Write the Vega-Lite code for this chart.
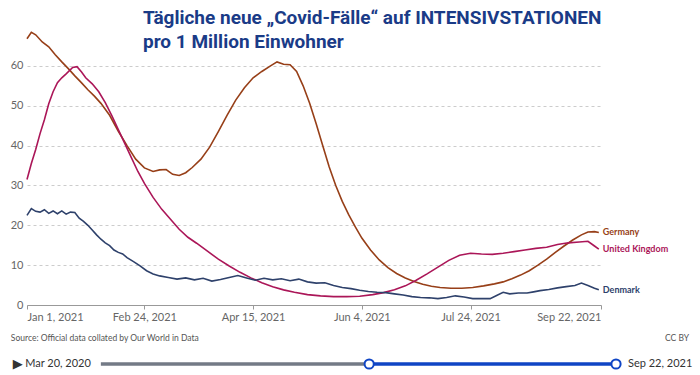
{
  "$schema": "https://vega.github.io/schema/vega-lite/v6.json",
  "autosize": {"type": "pad"},
  "padding": {"left": 10, "top": 9, "right": 0, "bottom": 0},
  "background": "white",
  "title": {
    "text": ["Tägliche neue „Covid-Fälle“ auf INTENSIVSTATIONEN", "pro 1 Million Einwohner"],
    "anchor": "start",
    "frame": "group",
    "dx": 116,
    "offset": -23,
    "font": "Roboto",
    "fontSize": 19,
    "fontWeight": "bold",
    "color": "#1a3b87",
    "lineHeight": 24
  },
  "datasets": {
    "icu": [
      {"country": "Germany", "date": "2021-01-01", "value": 66.8},
      {"country": "Germany", "date": "2021-01-03", "value": 68.4},
      {"country": "Germany", "date": "2021-01-05", "value": 67.8},
      {"country": "Germany", "date": "2021-01-08", "value": 66.0},
      {"country": "Germany", "date": "2021-01-11", "value": 64.8},
      {"country": "Germany", "date": "2021-01-14", "value": 62.8},
      {"country": "Germany", "date": "2021-01-17", "value": 61.0},
      {"country": "Germany", "date": "2021-01-20", "value": 59.3},
      {"country": "Germany", "date": "2021-01-23", "value": 57.5},
      {"country": "Germany", "date": "2021-01-26", "value": 55.8},
      {"country": "Germany", "date": "2021-01-29", "value": 54.0},
      {"country": "Germany", "date": "2021-02-01", "value": 52.4},
      {"country": "Germany", "date": "2021-02-04", "value": 50.6},
      {"country": "Germany", "date": "2021-02-08", "value": 47.6},
      {"country": "Germany", "date": "2021-02-12", "value": 43.6},
      {"country": "Germany", "date": "2021-02-16", "value": 40.0},
      {"country": "Germany", "date": "2021-02-20", "value": 36.6},
      {"country": "Germany", "date": "2021-02-24", "value": 34.4},
      {"country": "Germany", "date": "2021-02-28", "value": 33.5},
      {"country": "Germany", "date": "2021-03-03", "value": 33.9},
      {"country": "Germany", "date": "2021-03-06", "value": 34.0},
      {"country": "Germany", "date": "2021-03-09", "value": 32.8},
      {"country": "Germany", "date": "2021-03-12", "value": 32.5},
      {"country": "Germany", "date": "2021-03-15", "value": 33.2},
      {"country": "Germany", "date": "2021-03-18", "value": 34.5},
      {"country": "Germany", "date": "2021-03-22", "value": 36.6},
      {"country": "Germany", "date": "2021-03-26", "value": 39.6},
      {"country": "Germany", "date": "2021-03-30", "value": 43.5},
      {"country": "Germany", "date": "2021-04-03", "value": 47.6},
      {"country": "Germany", "date": "2021-04-07", "value": 51.4},
      {"country": "Germany", "date": "2021-04-11", "value": 54.5},
      {"country": "Germany", "date": "2021-04-15", "value": 57.0},
      {"country": "Germany", "date": "2021-04-19", "value": 58.6},
      {"country": "Germany", "date": "2021-04-23", "value": 60.0},
      {"country": "Germany", "date": "2021-04-26", "value": 61.0},
      {"country": "Germany", "date": "2021-04-29", "value": 60.4},
      {"country": "Germany", "date": "2021-05-02", "value": 60.3},
      {"country": "Germany", "date": "2021-05-05", "value": 58.6},
      {"country": "Germany", "date": "2021-05-08", "value": 55.0},
      {"country": "Germany", "date": "2021-05-11", "value": 50.6},
      {"country": "Germany", "date": "2021-05-14", "value": 45.5},
      {"country": "Germany", "date": "2021-05-17", "value": 40.0},
      {"country": "Germany", "date": "2021-05-20", "value": 34.6},
      {"country": "Germany", "date": "2021-05-23", "value": 30.0},
      {"country": "Germany", "date": "2021-05-26", "value": 26.0},
      {"country": "Germany", "date": "2021-05-29", "value": 22.6},
      {"country": "Germany", "date": "2021-06-01", "value": 19.6},
      {"country": "Germany", "date": "2021-06-04", "value": 16.8},
      {"country": "Germany", "date": "2021-06-08", "value": 13.8},
      {"country": "Germany", "date": "2021-06-12", "value": 11.3},
      {"country": "Germany", "date": "2021-06-16", "value": 9.4},
      {"country": "Germany", "date": "2021-06-20", "value": 7.9},
      {"country": "Germany", "date": "2021-06-24", "value": 6.8},
      {"country": "Germany", "date": "2021-06-28", "value": 5.9},
      {"country": "Germany", "date": "2021-07-02", "value": 5.2},
      {"country": "Germany", "date": "2021-07-06", "value": 4.7},
      {"country": "Germany", "date": "2021-07-10", "value": 4.4},
      {"country": "Germany", "date": "2021-07-15", "value": 4.2},
      {"country": "Germany", "date": "2021-07-20", "value": 4.2},
      {"country": "Germany", "date": "2021-07-25", "value": 4.4},
      {"country": "Germany", "date": "2021-07-30", "value": 4.8},
      {"country": "Germany", "date": "2021-08-04", "value": 5.3},
      {"country": "Germany", "date": "2021-08-08", "value": 5.8},
      {"country": "Germany", "date": "2021-08-12", "value": 6.6},
      {"country": "Germany", "date": "2021-08-16", "value": 7.5},
      {"country": "Germany", "date": "2021-08-20", "value": 8.6},
      {"country": "Germany", "date": "2021-08-24", "value": 10.0},
      {"country": "Germany", "date": "2021-08-28", "value": 11.5},
      {"country": "Germany", "date": "2021-09-01", "value": 13.2},
      {"country": "Germany", "date": "2021-09-05", "value": 14.8},
      {"country": "Germany", "date": "2021-09-09", "value": 16.3},
      {"country": "Germany", "date": "2021-09-13", "value": 17.6},
      {"country": "Germany", "date": "2021-09-16", "value": 18.3},
      {"country": "Germany", "date": "2021-09-19", "value": 18.4},
      {"country": "Germany", "date": "2021-09-21", "value": 18.2},
      {"country": "United Kingdom", "date": "2021-01-01", "value": 31.5},
      {"country": "United Kingdom", "date": "2021-01-03", "value": 35.5},
      {"country": "United Kingdom", "date": "2021-01-05", "value": 39.0},
      {"country": "United Kingdom", "date": "2021-01-07", "value": 43.0},
      {"country": "United Kingdom", "date": "2021-01-09", "value": 46.5},
      {"country": "United Kingdom", "date": "2021-01-11", "value": 50.5},
      {"country": "United Kingdom", "date": "2021-01-13", "value": 53.5},
      {"country": "United Kingdom", "date": "2021-01-15", "value": 55.8},
      {"country": "United Kingdom", "date": "2021-01-17", "value": 57.0},
      {"country": "United Kingdom", "date": "2021-01-19", "value": 58.0},
      {"country": "United Kingdom", "date": "2021-01-22", "value": 59.6},
      {"country": "United Kingdom", "date": "2021-01-24", "value": 59.8},
      {"country": "United Kingdom", "date": "2021-01-26", "value": 58.5},
      {"country": "United Kingdom", "date": "2021-01-28", "value": 57.0},
      {"country": "United Kingdom", "date": "2021-01-31", "value": 55.5},
      {"country": "United Kingdom", "date": "2021-02-03", "value": 53.5},
      {"country": "United Kingdom", "date": "2021-02-06", "value": 50.8},
      {"country": "United Kingdom", "date": "2021-02-09", "value": 47.5},
      {"country": "United Kingdom", "date": "2021-02-12", "value": 44.0},
      {"country": "United Kingdom", "date": "2021-02-15", "value": 40.5},
      {"country": "United Kingdom", "date": "2021-02-18", "value": 37.0},
      {"country": "United Kingdom", "date": "2021-02-21", "value": 33.5},
      {"country": "United Kingdom", "date": "2021-02-24", "value": 30.5},
      {"country": "United Kingdom", "date": "2021-02-28", "value": 27.0},
      {"country": "United Kingdom", "date": "2021-03-04", "value": 24.0},
      {"country": "United Kingdom", "date": "2021-03-08", "value": 21.5},
      {"country": "United Kingdom", "date": "2021-03-12", "value": 19.0},
      {"country": "United Kingdom", "date": "2021-03-16", "value": 17.0},
      {"country": "United Kingdom", "date": "2021-03-20", "value": 15.5},
      {"country": "United Kingdom", "date": "2021-03-25", "value": 13.5},
      {"country": "United Kingdom", "date": "2021-03-30", "value": 11.5},
      {"country": "United Kingdom", "date": "2021-04-04", "value": 9.8},
      {"country": "United Kingdom", "date": "2021-04-09", "value": 8.2},
      {"country": "United Kingdom", "date": "2021-04-14", "value": 6.8},
      {"country": "United Kingdom", "date": "2021-04-19", "value": 5.6},
      {"country": "United Kingdom", "date": "2021-04-24", "value": 4.6},
      {"country": "United Kingdom", "date": "2021-04-29", "value": 3.8},
      {"country": "United Kingdom", "date": "2021-05-04", "value": 3.2},
      {"country": "United Kingdom", "date": "2021-05-10", "value": 2.6},
      {"country": "United Kingdom", "date": "2021-05-16", "value": 2.3},
      {"country": "United Kingdom", "date": "2021-05-22", "value": 2.1},
      {"country": "United Kingdom", "date": "2021-05-28", "value": 2.1},
      {"country": "United Kingdom", "date": "2021-06-03", "value": 2.2},
      {"country": "United Kingdom", "date": "2021-06-09", "value": 2.6},
      {"country": "United Kingdom", "date": "2021-06-14", "value": 3.1},
      {"country": "United Kingdom", "date": "2021-06-19", "value": 3.8},
      {"country": "United Kingdom", "date": "2021-06-24", "value": 4.8},
      {"country": "United Kingdom", "date": "2021-06-29", "value": 6.2},
      {"country": "United Kingdom", "date": "2021-07-04", "value": 7.8},
      {"country": "United Kingdom", "date": "2021-07-09", "value": 9.5},
      {"country": "United Kingdom", "date": "2021-07-14", "value": 11.2},
      {"country": "United Kingdom", "date": "2021-07-19", "value": 12.5},
      {"country": "United Kingdom", "date": "2021-07-24", "value": 13.0},
      {"country": "United Kingdom", "date": "2021-07-29", "value": 12.8},
      {"country": "United Kingdom", "date": "2021-08-03", "value": 12.7},
      {"country": "United Kingdom", "date": "2021-08-08", "value": 13.0},
      {"country": "United Kingdom", "date": "2021-08-13", "value": 13.4},
      {"country": "United Kingdom", "date": "2021-08-18", "value": 13.8},
      {"country": "United Kingdom", "date": "2021-08-23", "value": 14.2},
      {"country": "United Kingdom", "date": "2021-08-28", "value": 14.5},
      {"country": "United Kingdom", "date": "2021-09-02", "value": 15.2},
      {"country": "United Kingdom", "date": "2021-09-07", "value": 15.6},
      {"country": "United Kingdom", "date": "2021-09-12", "value": 15.8},
      {"country": "United Kingdom", "date": "2021-09-16", "value": 16.0},
      {"country": "United Kingdom", "date": "2021-09-19", "value": 14.8},
      {"country": "United Kingdom", "date": "2021-09-21", "value": 14.0},
      {"country": "Denmark", "date": "2021-01-01", "value": 22.5},
      {"country": "Denmark", "date": "2021-01-03", "value": 24.2},
      {"country": "Denmark", "date": "2021-01-05", "value": 23.5},
      {"country": "Denmark", "date": "2021-01-07", "value": 23.3},
      {"country": "Denmark", "date": "2021-01-09", "value": 23.9},
      {"country": "Denmark", "date": "2021-01-11", "value": 23.0},
      {"country": "Denmark", "date": "2021-01-13", "value": 23.6},
      {"country": "Denmark", "date": "2021-01-15", "value": 22.9},
      {"country": "Denmark", "date": "2021-01-17", "value": 23.6},
      {"country": "Denmark", "date": "2021-01-19", "value": 22.8},
      {"country": "Denmark", "date": "2021-01-21", "value": 23.3},
      {"country": "Denmark", "date": "2021-01-23", "value": 23.2},
      {"country": "Denmark", "date": "2021-01-25", "value": 21.8},
      {"country": "Denmark", "date": "2021-01-27", "value": 21.0},
      {"country": "Denmark", "date": "2021-01-29", "value": 20.0},
      {"country": "Denmark", "date": "2021-01-31", "value": 18.8},
      {"country": "Denmark", "date": "2021-02-02", "value": 17.6},
      {"country": "Denmark", "date": "2021-02-04", "value": 16.5},
      {"country": "Denmark", "date": "2021-02-06", "value": 15.6},
      {"country": "Denmark", "date": "2021-02-08", "value": 14.9},
      {"country": "Denmark", "date": "2021-02-10", "value": 13.8},
      {"country": "Denmark", "date": "2021-02-12", "value": 13.2},
      {"country": "Denmark", "date": "2021-02-14", "value": 12.8},
      {"country": "Denmark", "date": "2021-02-16", "value": 11.9},
      {"country": "Denmark", "date": "2021-02-19", "value": 10.9},
      {"country": "Denmark", "date": "2021-02-22", "value": 9.8},
      {"country": "Denmark", "date": "2021-02-25", "value": 8.6},
      {"country": "Denmark", "date": "2021-02-28", "value": 7.8},
      {"country": "Denmark", "date": "2021-03-03", "value": 7.3},
      {"country": "Denmark", "date": "2021-03-07", "value": 6.9},
      {"country": "Denmark", "date": "2021-03-11", "value": 6.5},
      {"country": "Denmark", "date": "2021-03-15", "value": 6.8},
      {"country": "Denmark", "date": "2021-03-19", "value": 6.3},
      {"country": "Denmark", "date": "2021-03-23", "value": 6.7},
      {"country": "Denmark", "date": "2021-03-27", "value": 6.0},
      {"country": "Denmark", "date": "2021-03-31", "value": 6.4},
      {"country": "Denmark", "date": "2021-04-04", "value": 6.9},
      {"country": "Denmark", "date": "2021-04-08", "value": 7.4},
      {"country": "Denmark", "date": "2021-04-12", "value": 6.8},
      {"country": "Denmark", "date": "2021-04-16", "value": 6.2},
      {"country": "Denmark", "date": "2021-04-20", "value": 6.7},
      {"country": "Denmark", "date": "2021-04-24", "value": 6.3},
      {"country": "Denmark", "date": "2021-04-28", "value": 6.6},
      {"country": "Denmark", "date": "2021-05-02", "value": 6.1},
      {"country": "Denmark", "date": "2021-05-06", "value": 6.5},
      {"country": "Denmark", "date": "2021-05-10", "value": 5.8},
      {"country": "Denmark", "date": "2021-05-14", "value": 5.5},
      {"country": "Denmark", "date": "2021-05-18", "value": 5.6},
      {"country": "Denmark", "date": "2021-05-22", "value": 4.9},
      {"country": "Denmark", "date": "2021-05-26", "value": 4.4},
      {"country": "Denmark", "date": "2021-05-30", "value": 4.1},
      {"country": "Denmark", "date": "2021-06-03", "value": 3.7},
      {"country": "Denmark", "date": "2021-06-07", "value": 3.4},
      {"country": "Denmark", "date": "2021-06-11", "value": 3.2},
      {"country": "Denmark", "date": "2021-06-15", "value": 3.1},
      {"country": "Denmark", "date": "2021-06-19", "value": 2.8},
      {"country": "Denmark", "date": "2021-06-23", "value": 2.5},
      {"country": "Denmark", "date": "2021-06-27", "value": 2.1},
      {"country": "Denmark", "date": "2021-07-01", "value": 1.9},
      {"country": "Denmark", "date": "2021-07-05", "value": 1.8},
      {"country": "Denmark", "date": "2021-07-09", "value": 1.6},
      {"country": "Denmark", "date": "2021-07-13", "value": 1.9},
      {"country": "Denmark", "date": "2021-07-17", "value": 2.3},
      {"country": "Denmark", "date": "2021-07-21", "value": 2.0},
      {"country": "Denmark", "date": "2021-07-25", "value": 1.6},
      {"country": "Denmark", "date": "2021-07-29", "value": 1.6},
      {"country": "Denmark", "date": "2021-08-02", "value": 1.6},
      {"country": "Denmark", "date": "2021-08-05", "value": 2.4},
      {"country": "Denmark", "date": "2021-08-08", "value": 3.2},
      {"country": "Denmark", "date": "2021-08-11", "value": 2.8},
      {"country": "Denmark", "date": "2021-08-15", "value": 3.0},
      {"country": "Denmark", "date": "2021-08-19", "value": 3.0},
      {"country": "Denmark", "date": "2021-08-22", "value": 3.3},
      {"country": "Denmark", "date": "2021-08-25", "value": 3.6},
      {"country": "Denmark", "date": "2021-08-29", "value": 3.9},
      {"country": "Denmark", "date": "2021-09-02", "value": 4.3},
      {"country": "Denmark", "date": "2021-09-06", "value": 4.6},
      {"country": "Denmark", "date": "2021-09-10", "value": 4.9},
      {"country": "Denmark", "date": "2021-09-13", "value": 5.5},
      {"country": "Denmark", "date": "2021-09-16", "value": 4.9},
      {"country": "Denmark", "date": "2021-09-19", "value": 4.2},
      {"country": "Denmark", "date": "2021-09-21", "value": 3.8}
    ],
    "track": [
      {"part": "outside", "from": "2020-03-20", "to": "2021-01-01"},
      {"part": "selected", "from": "2021-01-01", "to": "2021-09-22"}
    ],
    "handles": [
      {"date": "2021-01-01"},
      {"date": "2021-09-22"}
    ]
  },
  "vconcat": [
    {
      "width": 574,
      "height": 273,
      "data": {"name": "icu", "format": {"parse": {"date": "date:'%Y-%m-%d'"}}},
      "layer": [
        {
          "mark": {"type": "line", "strokeWidth": 1.6},
          "encoding": {
            "x": {
              "field": "date",
              "type": "temporal",
              "scale": {"domain": [{"year": 2021, "month": 1, "date": 1}, {"year": 2021, "month": 9, "date": 22}], "nice": false},
              "axis": {
                "values": [
                  {"year": 2021, "month": 1, "date": 1},
                  {"year": 2021, "month": 2, "date": 24},
                  {"year": 2021, "month": 4, "date": 15},
                  {"year": 2021, "month": 6, "date": 4},
                  {"year": 2021, "month": 7, "date": 24},
                  {"year": 2021, "month": 9, "date": 22}
                ],
                "format": "%b %-d, %Y",
                "labelFlush": true,
                "labelOverlap": false,
                "grid": false,
                "tickSize": 4,
                "tickColor": "#999999",
                "domainColor": "#999999",
                "labelColor": "#666666",
                "labelFontSize": 11,
                "labelFont": "Lato",
                "labelPadding": 2,
                "title": null
              }
            },
            "y": {
              "field": "value",
              "type": "quantitative",
              "scale": {"domain": [0, 68.5], "nice": false},
              "axis": {
                "values": [0, 10, 20, 30, 40, 50, 60],
                "title": null,
                "domain": false,
                "ticks": false,
                "labelPadding": 4,
                "labelColor": "#666666",
                "labelFontSize": 11,
                "labelFont": "Lato",
                "grid": true,
                "gridDash": [3, 3],
                "gridColor": "#cccccc"
              }
            },
            "color": {
              "field": "country",
              "type": "nominal",
              "scale": {"domain": ["Germany", "United Kingdom", "Denmark"], "range": ["#973f18", "#ab1658", "#2e416b"]},
              "legend": null
            }
          }
        },
        {
          "transform": [{"filter": "month(datum.date) == 8 && date(datum.date) == 21"}],
          "mark": {"type": "text", "align": "left", "baseline": "middle", "dx": 4, "fontSize": 9, "fontWeight": "bold", "font": "Lato"},
          "encoding": {
            "x": {"field": "date", "type": "temporal"},
            "y": {"field": "value", "type": "quantitative"},
            "text": {"field": "country", "type": "nominal"},
            "color": {"field": "country", "type": "nominal"}
          }
        }
      ]
    },
    {
      "width": 589,
      "height": 26,
      "data": {"name": "track", "format": {"parse": {"from": "date:'%Y-%m-%d'", "to": "date:'%Y-%m-%d'"}}},
      "layer": [
        {
          "mark": {"type": "rule", "strokeWidth": 3.5},
          "encoding": {
            "x": {
              "field": "from",
              "type": "temporal",
              "scale": {"domain": [{"year": 2020, "month": 1, "date": 1}, {"year": 2021, "month": 9, "date": 22}], "nice": false},
              "axis": null
            },
            "x2": {"field": "to"},
            "y": {"datum": "slider", "type": "nominal", "scale": {"type": "point", "domain": ["source", "slider"], "padding": 0}, "axis": null},
            "color": {
              "field": "part",
              "type": "nominal",
              "scale": {"domain": ["outside", "selected"], "range": ["#737a86", "#0f45c5"]},
              "legend": null
            }
          }
        },
        {
          "data": {"name": "handles", "format": {"parse": {"date": "date:'%Y-%m-%d'"}}},
          "mark": {"type": "point", "filled": true, "fill": "white", "stroke": "#0f45c5", "strokeWidth": 2, "size": 85, "opacity": 1},
          "encoding": {
            "x": {"field": "date", "type": "temporal"},
            "y": {"datum": "slider", "type": "nominal"}
          }
        },
        {
          "transform": [{"filter": "datum.part == 'outside'"}],
          "mark": {"type": "text", "align": "right", "baseline": "middle", "dx": -10, "fontSize": 11, "font": "Lato", "color": "#333333"},
          "encoding": {
            "x": {"field": "from", "type": "temporal"},
            "y": {"datum": "slider", "type": "nominal"},
            "text": {"field": "from", "type": "temporal", "format": "%b %-d, %Y"}
          }
        },
        {
          "transform": [{"filter": "datum.part == 'selected'"}],
          "mark": {"type": "text", "align": "left", "baseline": "middle", "dx": 12, "fontSize": 11, "font": "Lato", "color": "#333333"},
          "encoding": {
            "x": {"field": "to", "type": "temporal"},
            "y": {"datum": "slider", "type": "nominal"},
            "text": {"field": "to", "type": "temporal", "format": "%b %-d, %Y"}
          }
        },
        {
          "transform": [{"filter": "datum.part == 'outside'"}],
          "mark": {"type": "text", "text": "▶", "align": "center", "baseline": "middle", "dx": -83, "fontSize": 13, "font": "DejaVu Sans", "color": "#333333"},
          "encoding": {
            "x": {"field": "from", "type": "temporal"},
            "y": {"datum": "slider", "type": "nominal"}
          }
        },
        {
          "transform": [{"filter": "datum.part == 'outside'"}],
          "mark": {"type": "text", "text": "Source: Official data collated by Our World in Data", "align": "left", "baseline": "middle", "dx": -90, "fontSize": 8.5, "font": "Lato", "color": "#555555"},
          "encoding": {
            "x": {"field": "from", "type": "temporal"},
            "y": {"datum": "source", "type": "nominal"}
          }
        },
        {
          "transform": [{"filter": "datum.part == 'selected'"}],
          "mark": {"type": "text", "text": "CC BY", "align": "right", "baseline": "middle", "dx": 73, "fontSize": 8.5, "font": "Lato", "color": "#555555"},
          "encoding": {
            "x": {"field": "to", "type": "temporal"},
            "y": {"datum": "source", "type": "nominal"}
          }
        }
      ]
    }
  ],
  "spacing": 12,
  "resolve": {"scale": {"x": "independent", "y": "independent", "color": "independent"}},
  "config": {"view": {"stroke": null}, "font": "Lato"}
}
